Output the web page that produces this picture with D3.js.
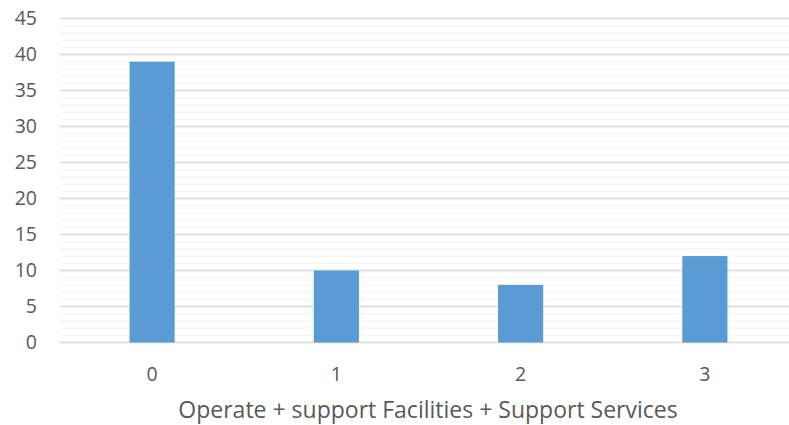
<!DOCTYPE html>
<html>
<head>
<meta charset="utf-8">
<script src="https://cdn.jsdelivr.net/npm/d3@7/dist/d3.min.js"></script>
<style>
  html, body { margin: 0; padding: 0; background: #fff; }
  svg { display: block; font-family: "Open Sans", "Noto Sans", sans-serif; }
</style>
</head>
<body>
<svg id="chart" width="789" height="425"></svg>
<script>
const categories = ["0", "1", "2", "3"];
const values = [39, 10, 8, 12];
const yTicks = [0, 5, 10, 15, 20, 25, 30, 35, 40, 45];
const axisTitle = "Operate + support Facilities + Support Services";

const svg = d3.select("#chart");
const plotLeft = 60, plotRight = 797, plotTop = 18.5, plotBottom = 342.5;

const x = d3.scaleBand().domain(categories).range([plotLeft, plotRight]).paddingInner(0.755).paddingOuter(0.3775);
const y = d3.scaleLinear().domain([0, 45]).range([plotBottom, plotTop]);

// minor gridlines every 1 unit
const minor = d3.range(0, 46).filter(v => v % 5 !== 0);
svg.append("g").selectAll("line").data(minor).join("line")
  .attr("x1", plotLeft).attr("x2", 789)
  .attr("y1", d => y(d)).attr("y2", d => y(d))
  .attr("stroke", "#f2f2f2").attr("stroke-width", 1);

// major gridlines
svg.append("g").selectAll("line").data(yTicks).join("line")
  .attr("x1", plotLeft).attr("x2", 789)
  .attr("y1", d => y(d)).attr("y2", d => y(d))
  .attr("stroke", "#d9d9d9").attr("stroke-width", 1.3);

// bars
svg.append("g").selectAll("rect").data(values).join("rect")
  .attr("x", (d, i) => x(categories[i]))
  .attr("width", x.bandwidth())
  .attr("y", d => y(d))
  .attr("height", d => y(0) - y(d))
  .attr("fill", "#5b9bd5");

// y axis labels
const yAxis = d3.axisLeft(y).tickValues(yTicks).tickSize(0).tickPadding(0);
const gy = svg.append("g").attr("transform", "translate(37,0)").call(yAxis);
gy.select(".domain").remove();
gy.selectAll("text").attr("fill", "#595959").attr("font-size", null).style("font-size", "19.5px").style("font-family", "'Open Sans', sans-serif");

// x axis labels
const xAxis = d3.axisBottom(x).tickSize(0).tickPadding(0);
const gx = svg.append("g").attr("transform", "translate(0,367)").call(xAxis);
gx.select(".domain").remove();
gx.selectAll("text").attr("fill", "#595959").style("font-size", "19.5px").style("font-family", "'Open Sans', sans-serif");

// axis title
svg.append("text")
  .attr("x", 428).attr("y", 418)
  .attr("text-anchor", "middle")
  .attr("fill", "#595959")
  .style("font-size", "23px")
  .text(axisTitle);
</script>
</body>
</html>
